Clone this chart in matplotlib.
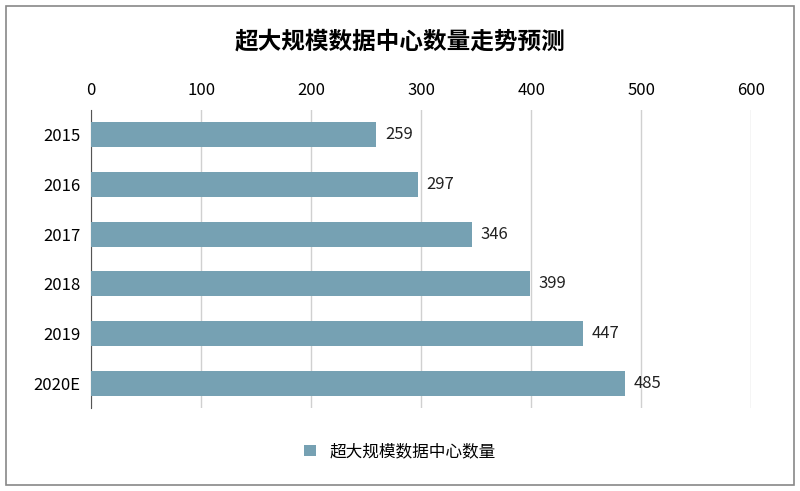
import matplotlib
matplotlib.use("Agg")
import matplotlib.pyplot as plt
from matplotlib.patches import Rectangle

categories = ["2015", "2016", "2017", "2018", "2019", "2020E"]
values = [259, 297, 346, 399, 447, 485]
xticks = [0, 100, 200, 300, 400, 500, 600]
title = "超大规模数据中心数量走势预测"
series_name = "超大规模数据中心数量"

plt.rcParams["font.family"] = ["Noto Sans CJK SC", "DejaVu Sans"]
fig = plt.figure(figsize=(8, 4.91), dpi=100)
fig.patches.append(Rectangle((0.008, 0.012), 0.984, 0.976, transform=fig.transFigure,
                             fill=False, edgecolor="#888888", linewidth=1.2))
ax = fig.add_axes([0.114, 0.169, 0.825, 0.607])
color = "#76a1b3"
y = list(range(len(categories)))
ax.barh(y, values, height=0.5, color=color, label=series_name, zorder=3)
for yi, v in zip(y, values):
    ax.text(v + 8, yi, str(v), va="center", ha="left", fontsize=12, color="#222222")
ax.set_yticks(y)
ax.set_yticklabels(categories, fontsize=12)
ax.invert_yaxis()
ax.set_ylim(5.5, -0.5)
ax.set_xlim(0, 600)
ax.set_xticks(xticks)
ax.xaxis.tick_top()
ax.tick_params(axis="x", length=0, labelsize=12, pad=8)
ax.tick_params(axis="y", length=0, pad=8)
ax.grid(axis="x", color="#d0d0d0", linewidth=1, zorder=0)
for s in ["top", "right", "bottom"]:
    ax.spines[s].set_visible(False)
ax.spines["left"].set_color("#555555")
fig.text(0.5, 0.915, title, ha="center", va="center", fontsize=17, fontweight="bold")
fig.legend(loc="center", bbox_to_anchor=(0.5, 0.08), frameon=False, fontsize=12,
           handlelength=0.7, handleheight=0.7)
fig.savefig("out.png", dpi=100)
